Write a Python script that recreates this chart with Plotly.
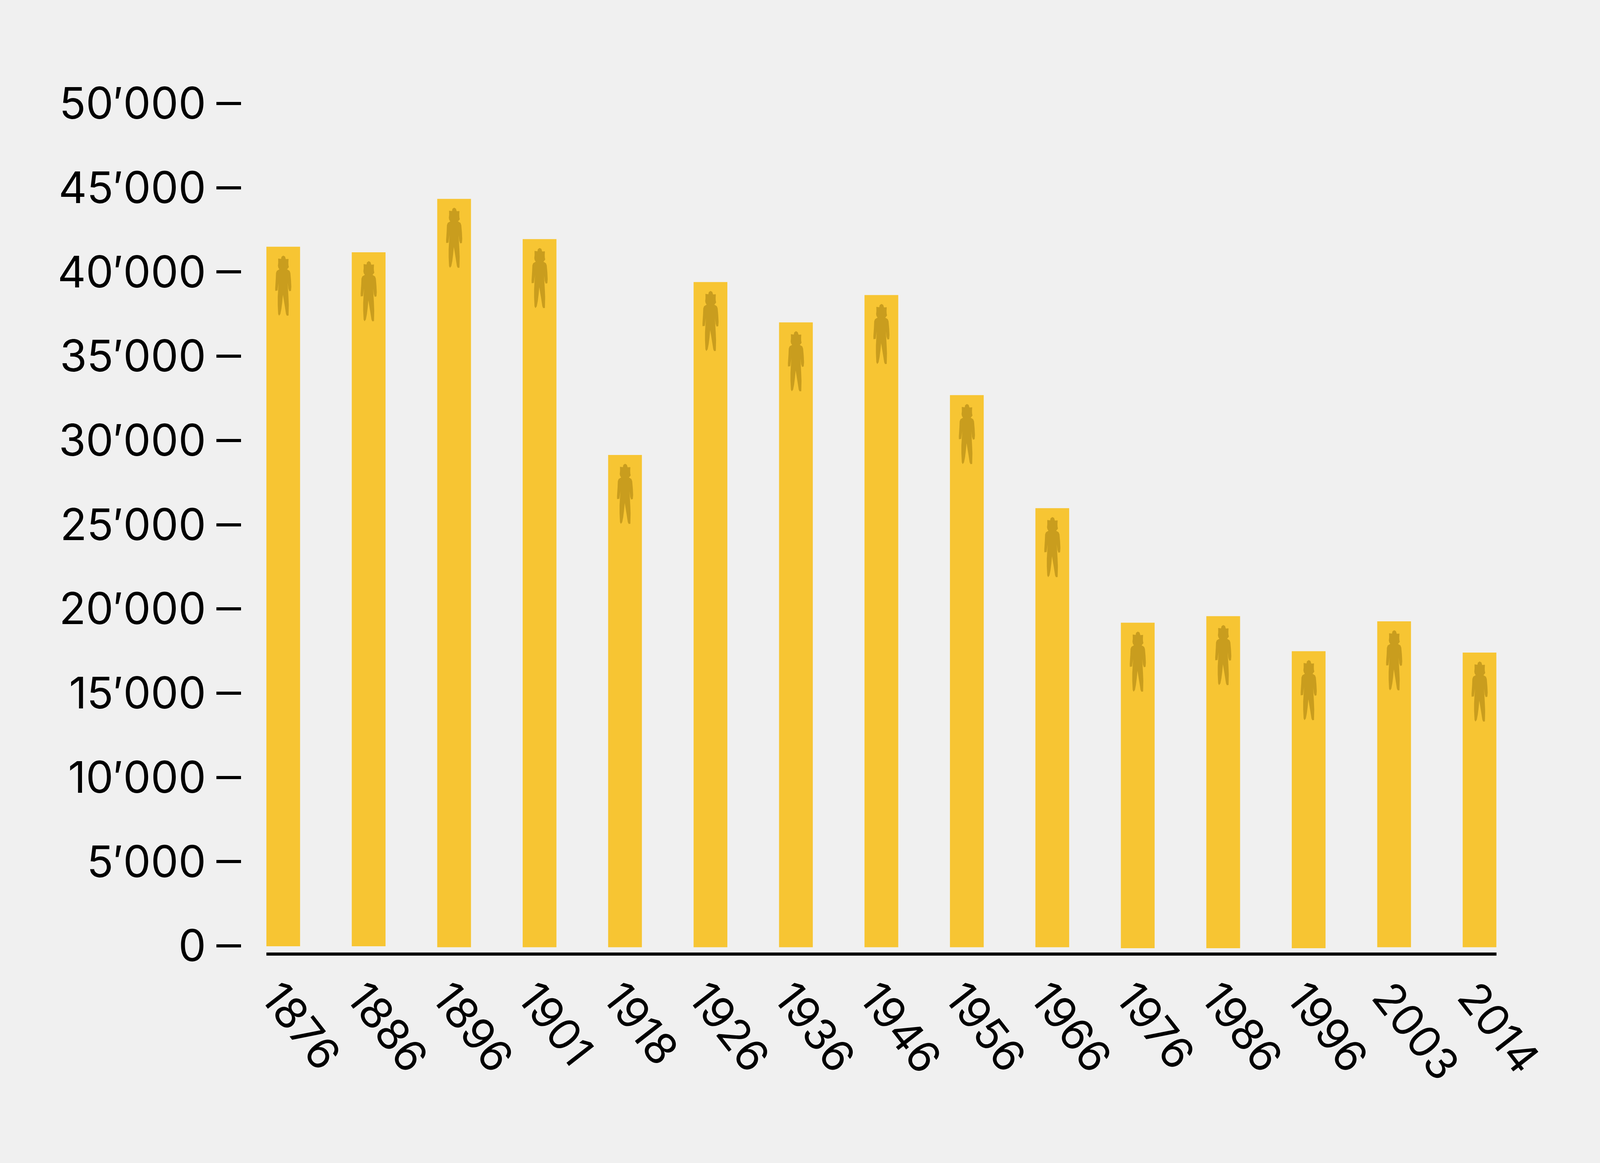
import plotly.graph_objects as go

REF_W, REF_H = 5220, 2978
WIN_W = 4096  # the browser clamps the window width to this; x-pixel sizes scale with it
XS = WIN_W / REF_W

years = ["1876","1886","1896","1901","1918","1926","1936","1946","1956","1966","1976","1986","1996","2003","2014"]
values = [41500,41170,44340,41950,29140,39400,37010,38630,32690,25980,19180,19570,17490,19260,17410]
bar_base = [-23,-23,-81,-81,-81,-81,-81,-81,-81,-81,-139,-139,-139,-81,-81]
y_ticks = [0,5000,10000,15000,20000,25000,30000,35000,40000,45000,50000]
y_labels = ["0","5′000","10′000","15′000","20′000","25′000","30′000","35′000","40′000","45′000","50′000"]

BG = "#f0f0f0"; BAR = "#f7c533"; ICON = "#c99d1e"
FONT = "Inter"
FONT_SIZE = 112

outline = [(253,161),(270,168),(278,188),(305,187),(303,215),(304,235),(308,250),(296,262),(290,266),
           (315,278),(323,295),(329,350),(332,400),(329,432),(312,435),(303,415),(296,370),(300,420),
           (304,480),(307,540),(305,622),(288,623),(280,610),(268,550),(250,462),(243,520),(235,570),
           (225,610),(212,623),(203,610),(199,540),(199,480),(203,420),(208,370),(197,430),(175,432),
           (174,410),(180,340),(182,295),(190,278),(215,266),(205,255),(201,240),(204,215),(203,184),
           (232,187),(236,170)]
path = "M " + " L ".join(f"{(x-252.5)/3*XS:.1f},{-(y-93)/3:.1f}" for x, y in outline) + " Z"

zero_px, fifty_px = 2422, 265
per_unit = (zero_px - fifty_px) / 50000
bottom_px = 2439
y_min = -(bottom_px - zero_px) / per_unit
y_max = 51500
top_px = zero_px - y_max * per_unit

lengths = [v - b for v, b in zip(values, bar_base)]
fig = go.Figure(go.Bar(x=list(range(len(years))), y=lengths, base=bar_base, width=0.395,
                       marker=dict(color=BAR, line_width=0)))
fig.update_layout(
    autosize=True, paper_bgcolor=BG, plot_bgcolor=BG, showlegend=False,
    margin=dict(l=0, r=0, t=0, b=0, autoexpand=False), font=dict(family=FONT, size=FONT_SIZE, color="#000"),
    xaxis=dict(domain=[869/REF_W, 4882/REF_W], range=[-0.197, 14.197], tickmode="array",
               tickvals=list(range(len(years))), ticktext=years, tickangle=52, automargin=False,
               showgrid=False, zeroline=False, showline=True, linecolor="#000", linewidth=8,
               ticks="", ticklabelstandoff=-5, ticklabelshift=-17, tickfont=dict(size=FONT_SIZE)),
    yaxis=dict(domain=[1-bottom_px/REF_H, 1-top_px/REF_H], range=[y_min, y_max], anchor="free", position=786/REF_W,
               tickmode="array", tickvals=y_ticks, ticktext=y_labels, showgrid=False, zeroline=False, automargin=False,
               showline=False, ticks="outside", ticklen=63, tickwidth=8, tickcolor="#000",
               ticklabelstandoff=4, tickfont=dict(size=FONT_SIZE)),
)
for i, v in enumerate(values):
    fig.add_shape(type="path", path=path, xsizemode="pixel", ysizemode="pixel",
                  xanchor=i, yanchor=v, xref="x", yref="y", fillcolor=ICON, line_width=0, layer="above")
post = """
var gd = document.getElementById('{plot_id}');
document.documentElement.style.height = '100%';
document.body.style.margin = '0';
document.body.style.height = '100%';
document.body.style.overflow = 'hidden';
Plotly.Plots.resize(gd);
"""
fig.write_html("out.html", post_script=post, config={"displayModeBar": False})
